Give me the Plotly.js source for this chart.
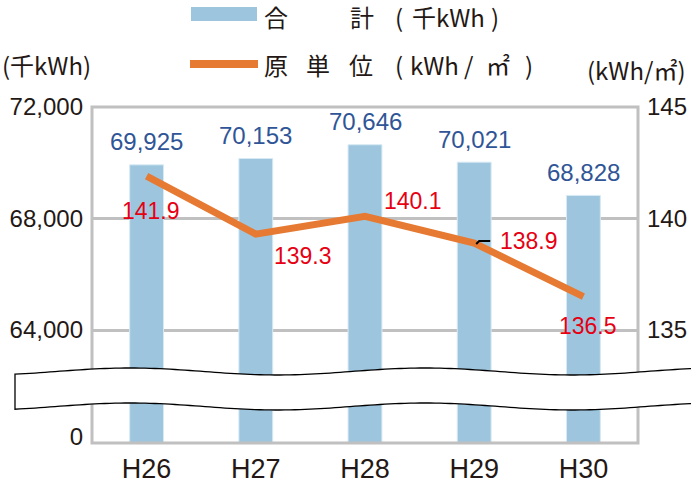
<!DOCTYPE html>
<html>
<head>
<meta charset="utf-8">
<script src="https://cdn.plot.ly/plotly-3.0.1.min.js"></script>
<style>
  html, body { margin: 0; padding: 0; background: #ffffff; }
  #chart { width: 691px; height: 483px; }
</style>
</head>
<body>
<div id="chart"></div>
<script>
// ---- data ----
const categories = ['H26', 'H27', 'H28', 'H29', 'H30'];
const totals = [69925, 70153, 70646, 70021, 68828];        // 合計（千kWh）
const unitValues = [141.9, 139.3, 140.1, 138.9, 136.5];    // 原単位（kWh/㎡）
const leftTicks = [64000, 68000, 72000];
const rightTicks = [135, 140, 145];
const zeroTick = [0];

// ---- styling / geometry ----
const W = 691, H = 483;
const L = 92, R = 638, T = 107, B = 443;      // plot area in pixels
const BREAK_Y = 390;                           // where the axis is split
const SANS = '"Liberation Sans", Arial, sans-serif';
const CJK = '"Noto Sans CJK JP", "Noto Sans", sans-serif';
const TXT = '#231815';
const BAR_COLOR = '#9DC6DE';
const LINE_COLOR = '#E67A33';
const BLUE_TXT = '#2F5597';
const RED_TXT = '#E60012';
const GRID = '#C0C0C0';

const px = x => (x - L) / (R - L);
const py = y => (B - y) / (B - T);
const splitDomain = py(BREAK_Y);

// pixel scale of the upper segments (from tick spacing)
const leftPxPerUnit = (330 - 107) / (leftTicks[2] - leftTicks[0]);
const rightPxPerUnit = (330 - 107) / (rightTicks[2] - rightTicks[0]);
const upperPx = BREAK_Y - T;
const leftRange = [leftTicks[2] - upperPx / leftPxPerUnit, leftTicks[2]];
const rightRange = [rightTicks[2] - upperPx / rightPxPerUnit, rightTicks[2]];

// label offsets (pixels) for the line labels
const lineLabelOffsets = [[4, -35], [47, -22], [48, 15], [55, 2], [5, -29]];

const barCommon = {
  type: 'bar', x: categories, y: totals, width: 0.31,
  marker: { color: BAR_COLOR, line: { color: '#d8e9f3', width: 1 } },
  hoverinfo: 'skip', showlegend: false
};

const traces = [
  Object.assign({}, barCommon, { xaxis: 'x', yaxis: 'y' }),
  Object.assign({}, barCommon, { xaxis: 'x', yaxis: 'y3' }),
  {
    type: 'scatter', mode: 'lines', x: categories, y: unitValues,
    xaxis: 'x', yaxis: 'y2',
    line: { color: LINE_COLOR, width: 7 },
    hoverinfo: 'skip', showlegend: false
  }
];

const annotations = [];
totals.forEach((v, i) => {
  annotations.push({
    x: categories[i], y: v, xref: 'x', yref: 'y',
    text: v.toLocaleString('en-US'), showarrow: false,
    yanchor: 'middle', yshift: 23,
    font: { family: SANS, size: 24, color: BLUE_TXT }
  });
});
unitValues.forEach((v, i) => {
  annotations.push({
    x: categories[i], y: v, xref: 'x', yref: 'y2',
    text: v.toFixed(1), showarrow: false,
    xshift: lineLabelOffsets[i][0], yshift: lineLabelOffsets[i][1],
    font: { family: SANS, size: 23, color: RED_TXT }
  });
});

// legend & axis titles (text placed in pixel positions)
function pxText(text, x, y, size, anchor) {
  return {
    xref: 'paper', yref: 'paper', x: px(x), y: py(y), text: text,
    showarrow: false, xanchor: anchor || 'left', yanchor: 'middle',
    font: { family: CJK, size: size, color: TXT }
  };
}
annotations.push(
  pxText('合', 262, 16, 24),
  pxText('計', 348, 16, 24),
  pxText('(', 393, 16, 24),
  pxText('千kWh', 410, 16, 24),
  pxText(')', 489, 16, 24),
  pxText('原', 262, 64, 24),
  pxText('単', 304, 64, 24),
  pxText('位', 347, 64, 24),
  pxText('(', 393, 64, 24),
  pxText('kWh', 408, 64, 24),
  pxText('/', 462, 64, 24),
  pxText('㎡', 484, 64, 24),
  pxText(')', 523, 64, 24),
  pxText('(千kWh)', 0, 64, 24),
  pxText('(kWh/㎡)', 585, 70, 24)
);

// wavy break band
function waveY(x, base) {
  return base - 3.5 * Math.cos(2 * Math.PI * (x - 130) / 295);
}
const edgeTop = [], edgeBot = [];
for (let x = 15; x <= 700; x += 5) edgeTop.push([x, waveY(x, 371.5)]);
for (let x = 700; x >= 15; x -= 5) edgeBot.push([x, waveY(x, 406.5)]);
let bandPath = 'M' + edgeTop.map(p => px(p[0]).toFixed(5) + ',' + py(p[1]).toFixed(5)).join(' L');
bandPath += ' L' + edgeBot.map(p => px(p[0]).toFixed(5) + ',' + py(p[1]).toFixed(5)).join(' L') + ' Z';

const shapes = [
  { type: 'rect', xref: 'paper', yref: 'paper', x0: 0, x1: 1, y0: 0, y1: 1,
    line: { color: GRID, width: 3 }, layer: 'above' },
  { type: 'path', xref: 'paper', yref: 'paper', path: bandPath,
    fillcolor: '#ffffff', line: { color: '#000000', width: 1.3 }, layer: 'above' },
  // legend keys
  { type: 'rect', xref: 'paper', yref: 'paper', x0: px(191), x1: px(257), y0: py(21), y1: py(7),
    fillcolor: BAR_COLOR, line: { width: 0 } },
  { type: 'line', xref: 'paper', yref: 'paper', x0: px(190), x1: px(258), y0: py(64), y1: py(64),
    line: { color: LINE_COLOR, width: 8 } },
  // leader tick near H29 label
  { type: 'path', xref: 'x', yref: 'y2', xsizemode: 'pixel', ysizemode: 'pixel',
    xanchor: 3, yanchor: unitValues[3],
    path: 'M2,-1 L5,2 L16,2', line: { color: '#000000', width: 2 } }
];

const axisFont = { family: SANS, size: 24, color: TXT };

const layout = {
  width: W, height: H,
  margin: { l: L, r: W - R, t: T, b: H - B, pad: 0 },
  paper_bgcolor: '#ffffff', plot_bgcolor: '#ffffff',
  showlegend: false,
  xaxis: {
    domain: [0, 1], anchor: 'y3', type: 'category', range: [-0.5, 4.5],
    ticks: '', showgrid: false, zeroline: false, showline: false,
    tickfont: { family: SANS, size: 27, color: TXT }, ticklabelstandoff: 7
  },
  yaxis: {
    domain: [splitDomain, 1], anchor: 'x', range: leftRange,
    tickvals: leftTicks, tickformat: ',d', ticks: '',
    showgrid: true, gridcolor: GRID, gridwidth: 3, zeroline: false, showline: false,
    tickfont: axisFont, ticklabelstandoff: 8
  },
  yaxis2: {
    overlaying: 'y', side: 'right', anchor: 'x', range: rightRange,
    tickvals: rightTicks, ticks: '', showgrid: false, zeroline: false, showline: false,
    tickfont: axisFont, ticklabelstandoff: 8
  },
  yaxis3: {
    domain: [0, splitDomain], anchor: 'x', range: [0, 1000],
    tickvals: zeroTick, ticks: '', showgrid: false, zeroline: false, showline: false,
    tickfont: axisFont, ticklabelstandoff: 8, ticklabelshift: -6
  },
  yaxis4: {
    overlaying: 'y3', side: 'right', anchor: 'x', range: [0, 10],
    tickvals: zeroTick, ticks: '', showgrid: false, zeroline: false, showline: false,
    tickfont: axisFont, ticklabelstandoff: 8, ticklabelshift: -6
  },
  annotations: annotations,
  shapes: shapes
};

Plotly.newPlot('chart', traces, layout, { displayModeBar: false, staticPlot: true });
</script>
</body>
</html>
